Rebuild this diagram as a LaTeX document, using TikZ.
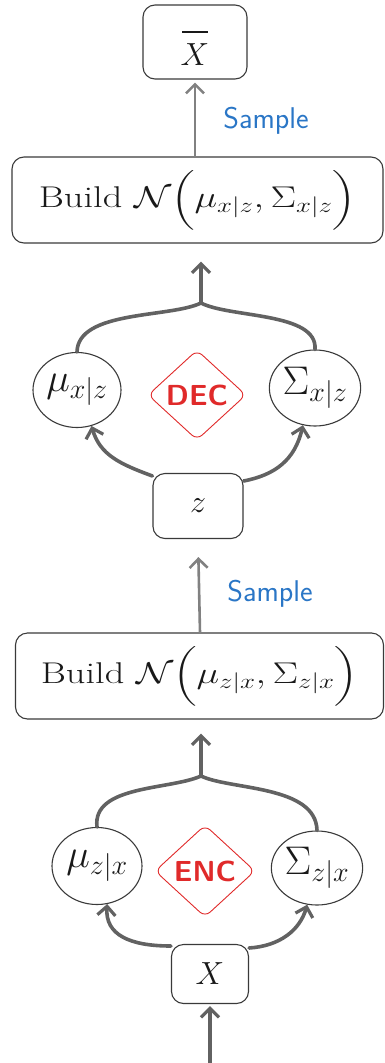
\RequirePackage{fix-cm}
\documentclass[tikz,border=0pt]{standalone}
\usepackage{amsmath}
\usepackage{fontspec}
\usepackage{graphicx}
\usetikzlibrary{shapes.geometric,arrows.meta}
\definecolor{linegray}{HTML}{626262}
\definecolor{boxgray}{HTML}{3A3A3A}
\definecolor{encred}{HTML}{E02A2A}
\definecolor{sampleblue}{HTML}{2A76C6}
\newcommand{\widetext}[1]{\scalebox{1.28}[1]{#1}}
\newcommand{\barX}{\begin{tabular}{@{}c@{}}\rule{26pt}{1.8pt}\\[-4pt]$X$\end{tabular}}
\tikzset{
  box/.style={draw=boxgray,line width=1.1pt,rounded corners=12pt,inner sep=0pt,text=black!90},
  circ/.style={draw=boxgray,line width=1.1pt,ellipse,inner sep=0pt,text=black!90,font=\fontsize{40}{44}\selectfont},
  netbox/.style={draw=encred,line width=0.9pt,diamond,rounded corners=7pt,inner sep=0pt,text=encred,font=\sffamily\bfseries\fontsize{29}{32}\selectfont},
  flow/.style={draw=linegray,line width=3.6pt,line cap=round,-{Straight Barb[length=9pt,width=18pt,line width=3.2pt]}},
  flowthin/.style={draw=linegray!80,line width=2.6pt,line cap=round,-{Straight Barb[length=9pt,width=18pt,line width=2.6pt]}},
  branch/.style={draw=linegray,line width=3.6pt,line cap=round},
  samplelabel/.style={text=sampleblue,font=\sffamily\fontsize{30}{34}\selectfont},
  buildtext/.style={font=\fontsize{30}{34}\selectfont},
  vartext/.style={font=\fontsize{32}{36}\selectfont}
}
\begin{document}
\begin{tikzpicture}[x=1pt,y=-1pt]
\path[use as bounding box] (0,0) rectangle (384,1063);
% nodes
\node[box,minimum width=104pt,minimum height=74pt,vartext] (xbar) at (195,42) {\barX};
\node[box,minimum width=371pt,minimum height=86pt,buildtext] (build1) at (197.5,200) {\widetext{Build $\mathcal{N}\Bigl(\mu_{x|z},\Sigma_{x|z}\Bigr)$}};
\node[circ,minimum width=88pt,minimum height=75pt] (mu1) at (77,390) {$\mu_{x|z}$};
\node[circ,minimum width=90pt,minimum height=76pt] (sig1) at (315,388) {$\Sigma_{x|z}$};
\node[netbox,minimum width=98pt,minimum height=90pt] (dec) at (197,395) {DEC};
\node[box,minimum width=90pt,minimum height=65pt,vartext] (z) at (198,506) {$z$};
\node[box,minimum width=368pt,minimum height=86pt,buildtext] (build2) at (199.5,676) {\widetext{Build $\mathcal{N}\Bigl(\mu_{z|x},\Sigma_{z|x}\Bigr)$}};
\node[circ,minimum width=90pt,minimum height=77pt] (mu2) at (97,866) {$\mu_{z|x}$};
\node[circ,minimum width=90pt,minimum height=74pt] (sig2) at (317,868) {$\Sigma_{z|x}$};
\node[netbox,minimum width=100pt,minimum height=92pt] (enc) at (205,871) {ENC};
\node[box,minimum width=77pt,minimum height=59pt,vartext] (x) at (210,974) {$X$};
\coordinate (merge1) at (201,303);
\coordinate (merge2) at (201,776);
\coordinate (input) at (210,1063);
% labels
\node[samplelabel] (s1) at (266,121) {Sample};
\node[samplelabel] (s2) at (270,594) {Sample};
% connectors
\draw[flowthin,shorten >=3pt] (build1.north -| xbar) -- (xbar.south);
\draw[flowthin,shorten >=18pt] (build2.north -| z) ++(2,0) -- (z.south);
\draw[branch] (mu1.north) .. controls (78,310) and (170,318) .. (merge1);
\draw[branch] (sig1.north) .. controls (318,312) and (230,318) .. (merge1);
\draw[flow,shorten >=18pt] (merge1) -- (build1.south -| merge1);
\draw[branch] (mu2.north) .. controls (92,785) and (170,790) .. (merge2);
\draw[branch] (sig2.north) .. controls (316,785) and (230,790) .. (merge2);
\draw[flow,shorten >=14pt] (merge2) -- (build2.south -| merge2);
\draw[flow] (z.west) ++(0,-30) .. controls (120,464) and (100,455) .. (mu1.-68);
\draw[flow] (z.east) ++(0,-25) .. controls (275,475) and (295,460) .. (sig1.-108);
\draw[flow] (x.west) ++(0,-28) .. controls (130,946) and (105,935) .. (mu2.-75);
\draw[flow] (x.east) ++(0,-26) .. controls (280,946) and (300,930) .. (sig2.-105);
\draw[flow,shorten >=2pt] (input) -- (x.south);
\end{tikzpicture}
\end{document}
